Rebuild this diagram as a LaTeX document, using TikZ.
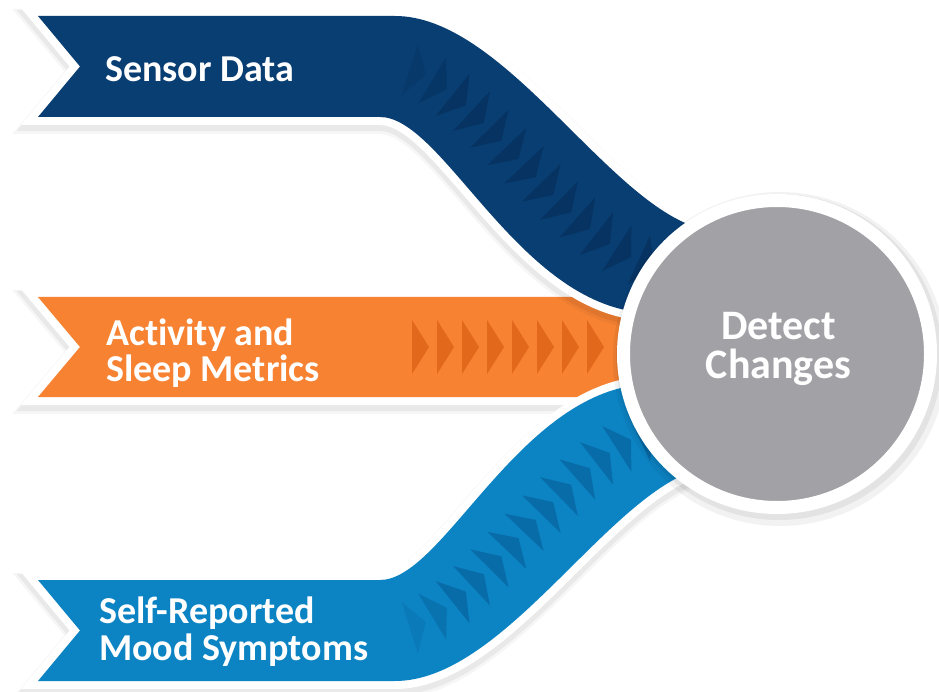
\documentclass[tikz,border=0pt]{standalone}
\usepackage{fontspec}
\setmainfont{Carlito}[RawFeature={-liga;-clig}]
\usetikzlibrary{decorations.markings}
\definecolor{navy}{RGB}{9,62,115}
\definecolor{navydark}{RGB}{6,51,97}
\definecolor{tang}{RGB}{246,130,50}
\definecolor{tangdark}{RGB}{226,104,28}
\definecolor{sky}{RGB}{12,132,196}
\definecolor{skydark}{RGB}{8,108,168}
\definecolor{hubgray}{RGB}{162,161,166}
\newcommand{\flowband}{(38,16) -- (395,16) .. controls (500,16) and (600,190) .. (690,225) -- (740,245) -- (700,325) -- (625,310) .. controls (510,285) and (440,117) .. (380,117) -- (38,117) -- (80,66.5) -- cycle}
\newcommand{\flowline}{(80,66.5) -- (390,66.5) .. controls (470,66.5) and (555,237) .. (657,267) -- (720,285)}
\newcommand{\midband}{(38,297) -- (720,297) -- (720,397) -- (38,397) -- (80,347) -- cycle}

\begin{document}
\begin{tikzpicture}[x=1pt, y=-1pt,
      rim/.style={draw=white, fill=white, line width=16pt, line join=miter},
      shade/.style={draw=black, opacity=#1, line join=miter},
      lbl/.style={text=white, align=left, inner sep=0pt, font=\bfseries\fontsize{38}{36.5}\selectfont},
      hub/.style={circle, fill=hubgray, draw=white, line width=13pt, minimum size=307pt, inner sep=0pt},
      hubtext/.style={text=white, align=center, inner sep=0pt, font=\bfseries\fontsize{42}{39.5}\selectfont},
      chevs/.style n args={4}{decoration={markings,
          mark=between positions #1 and #2 step 25pt with {%
            \pgfmathsetmacro\chevop{min(1,#4+0.3*\pgfkeysvalueof{/pgf/decoration/mark info/sequence number})}%
            \fill[#3, opacity=\chevop] (0,-27) -- (17,0) -- (0,27) -- cycle;}},
        decorate}]
    \fill[white] (0,0) rectangle (939,692);
    \useasboundingbox (0,0) rectangle (939,692);

    \draw[shade=0.035, line width=24pt, yshift=-5pt] \midband;
    \draw[shade=0.05, line width=20pt, yshift=-4pt] \midband;
    \path[rim] \midband;
    \fill[tang] \midband;
    \path[chevs={332pt}{507pt}{tangdark}{1}] (80,347) -- (720,347);

    \draw[shade=0.035, line width=24pt, yshift=-5pt] \flowband;
    \draw[shade=0.05, line width=20pt, yshift=-4pt] \flowband;
    \path[rim] \flowband;
    \fill[navy] \flowband;
    \path[chevs={330pt}{630pt}{navydark}{0.1}] \flowline;

    \begin{scope}[shift={(0,697)}, yscale=-1]
      \draw[shade=0.035, line width=24pt, yshift=5pt] \flowband;
      \draw[shade=0.05, line width=20pt, yshift=4pt] \flowband;
      \path[rim] \flowband;
      \fill[sky] \flowband;
      \path[chevs={330pt}{630pt}{skydark}{0.1}] \flowline;
    \end{scope}

    \fill[black, opacity=0.05] (780,359) circle (167);
    \fill[black, opacity=0.06] (779,357) circle (163);
    \node[hub] (detect) at (777,354) {};
    \node[hubtext] (detecttext) at (778.5,349) {Detect\\Changes};

    \node[lbl, anchor=base west] (sensor) at (105,82) {Sensor Data};
    \node[lbl, anchor=base west] (activity) at (106,381.7) {Activity and\\Sleep Metrics};
    \node[lbl, anchor=base west] (mood) at (99,660) {Self-Reported\\Mood Symptoms};
  \end{tikzpicture}
\end{document}
